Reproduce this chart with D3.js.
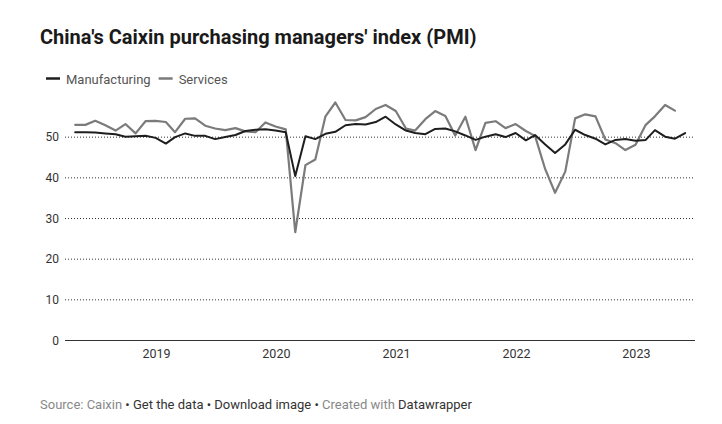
<!DOCTYPE html>
<html>
<head>
<meta charset="utf-8">
<script src="https://cdn.jsdelivr.net/npm/d3@7"></script>
<style>
  html, body { margin: 0; padding: 0; background: #fff; }
  svg { display: block; font-family: Roboto, "Noto Sans", sans-serif; }
</style>
</head>
<body>
<svg id="chart" width="722" height="424"></svg>
<script>
// ---- data ----
const months = [
  "2018-04","2018-05","2018-06","2018-07","2018-08","2018-09","2018-10","2018-11","2018-12",
  "2019-01","2019-02","2019-03","2019-04","2019-05","2019-06","2019-07","2019-08","2019-09","2019-10","2019-11","2019-12",
  "2020-01","2020-02","2020-03","2020-04","2020-05","2020-06","2020-07","2020-08","2020-09","2020-10","2020-11","2020-12",
  "2021-01","2021-02","2021-03","2021-04","2021-05","2021-06","2021-07","2021-08","2021-09","2021-10","2021-11","2021-12",
  "2022-01","2022-02","2022-03","2022-04","2022-05","2022-06","2022-07","2022-08","2022-09","2022-10","2022-11","2022-12",
  "2023-01","2023-02","2023-03","2023-04","2023-05"
];
const manufacturing = [
  51.1, 51.1, 51.0, 50.8, 50.6, 50.0, 50.1, 50.2, 49.7,
  48.3, 49.9, 50.8, 50.2, 50.2, 49.4, 49.9, 50.4, 51.4, 51.7, 51.8, 51.5,
  51.1, 40.3, 50.1, 49.4, 50.7, 51.2, 52.8, 53.1, 53.0, 53.6, 54.9, 53.0,
  51.5, 50.9, 50.6, 51.9, 52.0, 51.3, 50.3, 49.2, 50.0, 50.6, 49.9, 50.9,
  49.1, 50.4, 48.1, 46.0, 48.1, 51.7, 50.4, 49.5, 48.1, 49.2, 49.4, 49.0,
  49.2, 51.6, 50.0, 49.5, 50.9
];
const services = [
  52.9, 52.9, 53.9, 52.8, 51.5, 53.1, 50.8, 53.8, 53.9,
  53.6, 51.1, 54.4, 54.5, 52.7, 52.0, 51.6, 52.1, 51.3, 51.1, 53.5, 52.5,
  51.8, 26.5, 43.0, 44.4, 55.0, 58.4, 54.1, 54.0, 54.8, 56.8, 57.8, 56.3,
  52.0, 51.5, 54.3, 56.3, 55.1, 50.3, 54.9, 46.7, 53.4, 53.8, 52.1, 53.1,
  51.4, 50.2, 42.0, 36.2, 41.4, 54.5, 55.5, 55.0, 49.3, 48.4, 46.7, 48.0,
  52.9, 55.0, 57.8, 56.4, null
];
const yTicks = [0, 10, 20, 30, 40, 50];
const xTickYears = ["2019", "2020", "2021", "2022", "2023"];
const seriesNames = ["Manufacturing", "Services"];

// ---- setup ----
const svg = d3.select("#chart");
svg.append("rect").attr("width", 722).attr("height", 424).attr("fill", "#fff");

// month-end dates
const dates = months.map(m => { const [yr, mo] = m.split("-").map(Number); return new Date(yr, mo, 0); });

const x = d3.scaleTime()
  .domain([new Date(2018, 2, 30), new Date(2023, 5, 30)])
  .range([65, 695]);
const y = d3.scaleLinear().domain([0, 60]).range([340, 96]);

const colors = { Manufacturing: "#1e1e1e", Services: "#7b7b7b" };

// title
svg.append("text")
  .attr("x", 40).attr("y", 44)
  .attr("font-size", 20).attr("font-weight", 700).attr("fill", "#1a1a1a")
  .text("China's Caixin purchasing managers' index (PMI)");

// legend
let lx = 46;
seriesNames.forEach(name => {
  svg.append("line").attr("x1", lx).attr("x2", lx + 14).attr("y1", 78.5).attr("y2", 78.5)
    .attr("stroke", colors[name]).attr("stroke-width", 2.5);
  const t = svg.append("text").attr("x", lx + 20).attr("y", 83.5)
    .attr("font-size", 13).attr("fill", "#555").text(name);
  lx = lx + 20 + t.node().getComputedTextLength() + 8;
});

// gridlines
const g = svg.append("g");
yTicks.forEach(v => {
  if (v === 0) return;
  g.append("line").attr("x1", 65).attr("x2", 695).attr("y1", y(v) + 0.5).attr("y2", y(v) + 0.5)
    .attr("stroke", "#333").attr("stroke-width", 1).attr("stroke-dasharray", "1,2");
});
// y labels
yTicks.forEach(v => {
  g.append("text").attr("x", 59).attr("y", y(v) + 4.5).attr("text-anchor", "end")
    .attr("font-size", 12).attr("fill", "#333").text(v);
});
// baseline
g.append("line").attr("x1", 65).attr("x2", 695).attr("y1", y(0) + 0.5).attr("y2", y(0) + 0.5)
  .attr("stroke", "#333").attr("stroke-width", 1);

// x axis labels via d3 axis
const xAxis = d3.axisBottom(x)
  .tickValues(xTickYears.map(s => new Date(+s, 0, 1)))
  .tickFormat(d3.timeFormat("%Y"))
  .tickSize(0).tickPadding(9);
const ax = svg.append("g").attr("transform", `translate(0,${y(0)})`).call(xAxis);
ax.select(".domain").remove();
ax.selectAll("text").attr("font-size", 12.5).attr("fill", "#333").attr("font-family", "Roboto, sans-serif");

// lines
const line = d3.line()
  .defined(d => d.v != null)
  .x(d => x(d.date)).y(d => y(d.v));

[["Services", services], ["Manufacturing", manufacturing]].forEach(([name, vals]) => {
  const data = vals.map((v, i) => ({ date: dates[i], v }));
  svg.append("path").datum(data)
    .attr("fill", "none").attr("stroke", colors[name])
    .attr("stroke-width", name === "Services" ? 2.2 : 2)
    .attr("stroke-linejoin", "round").attr("stroke-linecap", "round")
    .attr("d", line);
});

// footer
const foot = svg.append("text").attr("x", 40).attr("y", 409).attr("font-size", 13);
const parts = [
  ["Source: Caixin", "#888"], [" • ", "#333"], ["Get the data", "#333"], [" • ", "#333"],
  ["Download image", "#333"], [" • ", "#333"], ["Created with ", "#888"], ["Datawrapper", "#333"]
];
parts.forEach(([t, c]) => foot.append("tspan").attr("fill", c).text(t));
</script>
</body>
</html>
